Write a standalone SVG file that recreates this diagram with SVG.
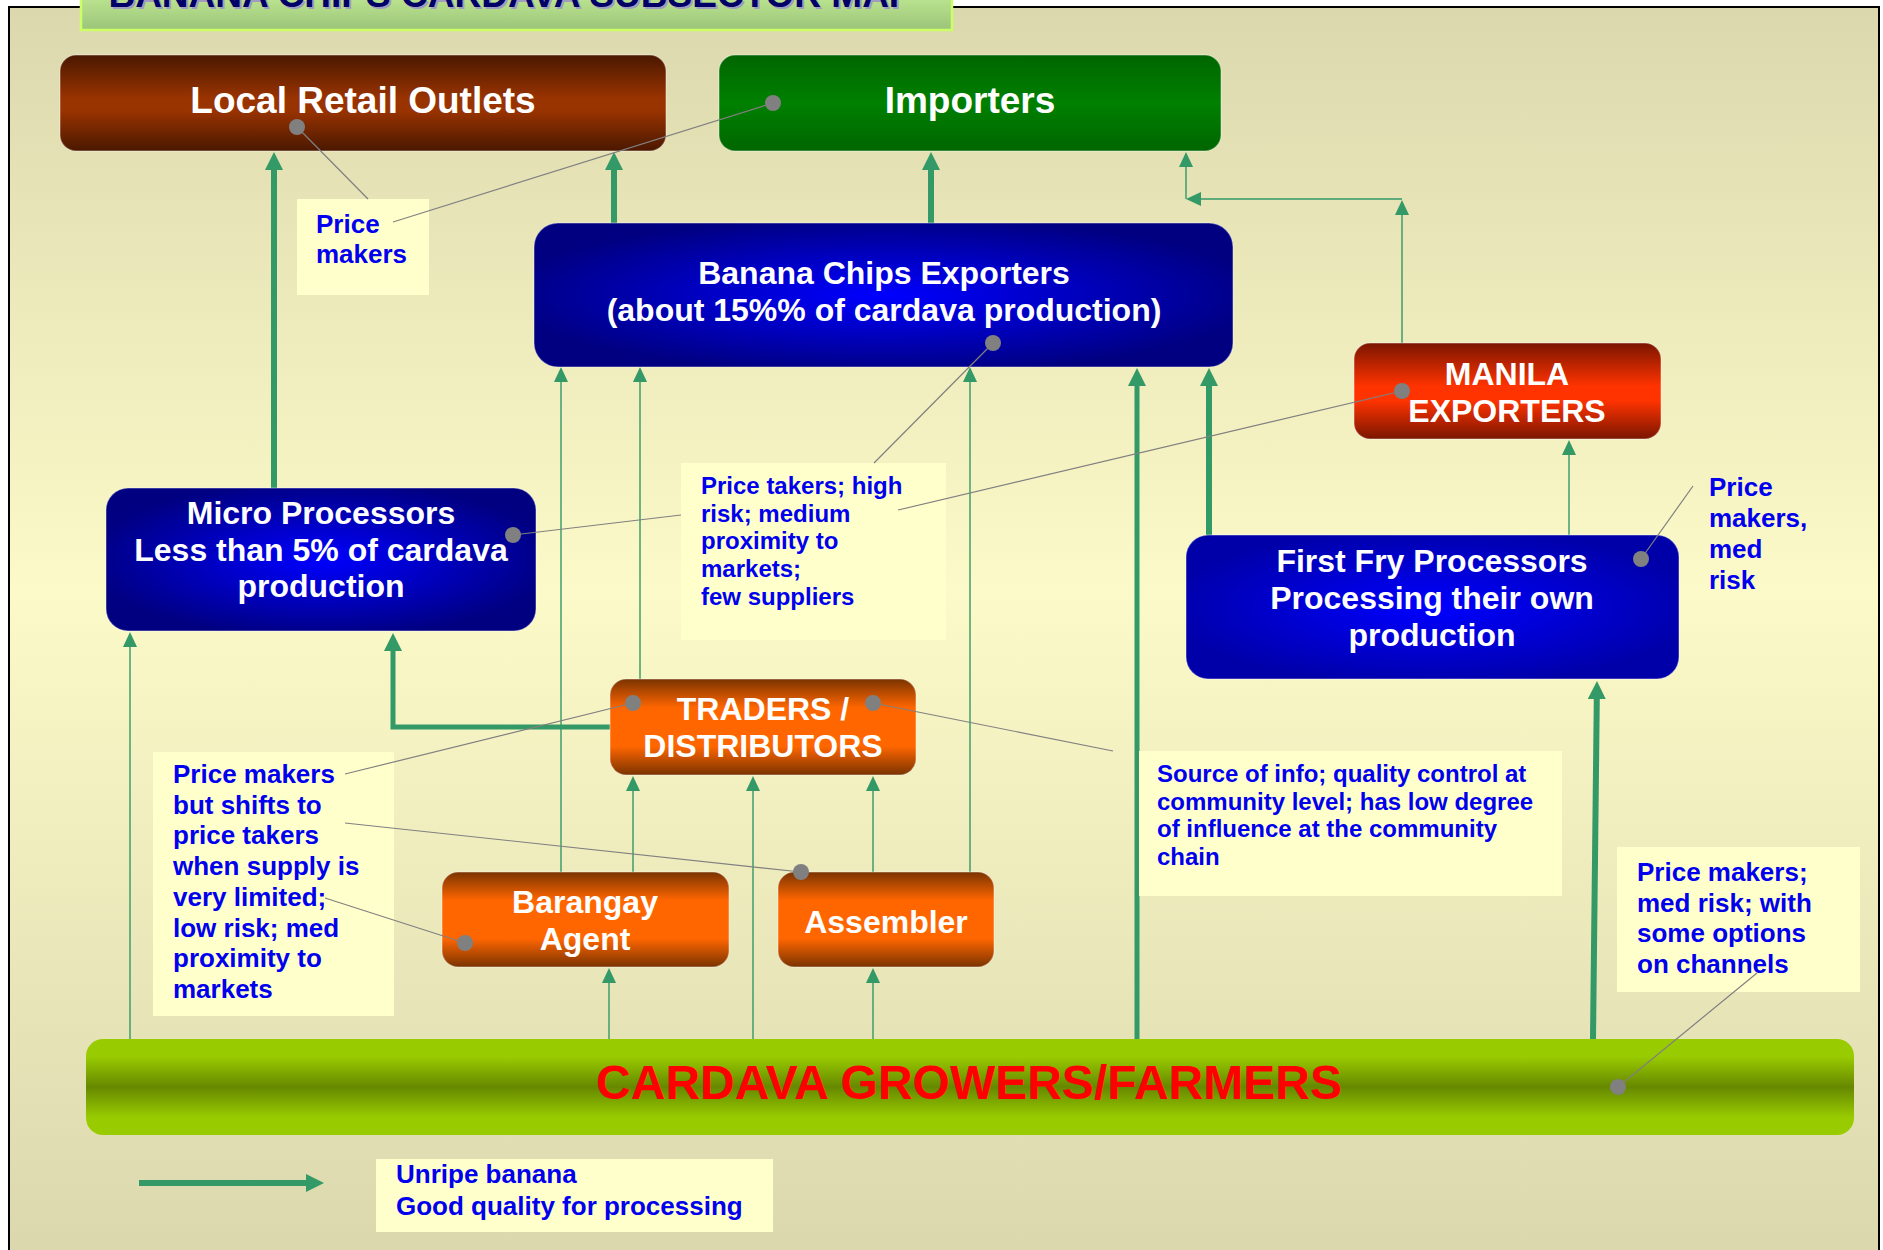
<svg xmlns="http://www.w3.org/2000/svg" width="1883" height="1250" viewBox="0 0 1883 1250">
<defs>
<style>
.nt{font-family:"Liberation Sans",Arial,sans-serif;font-weight:bold;fill:#ffffff;text-anchor:middle}
.lt{font-family:"Liberation Sans",Arial,sans-serif;font-weight:bold;fill:#0000ee}
.note{fill:#ffffcc}
.g{fill:none;stroke:#339966;stroke-linejoin:miter}
.thin{stroke-width:1.4}
.thick{stroke-width:6}
.med{stroke-width:5}
.lead{fill:none;stroke:#808080;stroke-width:1.2}
.dot{fill:#808080}
.nb{stroke:#ffffff;stroke-opacity:0.3;stroke-width:1.5}
</style>
<linearGradient id="gBg" gradientUnits="userSpaceOnUse" x1="0" y1="7" x2="0" y2="1250">
<stop offset="0" stop-color="#dcd8ae"/><stop offset="0.47" stop-color="#fcfac8"/><stop offset="1" stop-color="#dbd8ae"/>
</linearGradient>
<linearGradient id="gTitle" x1="0" y1="0" x2="0" y2="1">
<stop offset="0" stop-color="#d4ffa0"/><stop offset="1" stop-color="#9cc47a"/>
</linearGradient>
<linearGradient id="gBrown" x1="0" y1="0" x2="0" y2="1">
<stop offset="0" stop-color="#4a1800"/><stop offset="0.45" stop-color="#993300"/><stop offset="0.58" stop-color="#993300"/><stop offset="1" stop-color="#4a1800"/>
</linearGradient>
<linearGradient id="gGreen" x1="0" y1="0" x2="0" y2="1">
<stop offset="0" stop-color="#006600"/><stop offset="0.5" stop-color="#008000"/><stop offset="1" stop-color="#006600"/>
</linearGradient>
<radialGradient id="gBlue" cx="0.5" cy="0.5" r="0.55">
<stop offset="0" stop-color="#0000ff"/><stop offset="1" stop-color="#000080"/>
</radialGradient>
<radialGradient id="gBlue2" cx="0.5" cy="0.5" r="0.55">
<stop offset="0" stop-color="#0000ff"/><stop offset="1" stop-color="#0000a8"/>
</radialGradient>
<linearGradient id="gRed" x1="0" y1="0" x2="0" y2="1">
<stop offset="0" stop-color="#7a1500"/><stop offset="0.45" stop-color="#ff3300"/><stop offset="0.6" stop-color="#ff3300"/><stop offset="1" stop-color="#7a1500"/>
</linearGradient>
<linearGradient id="gOrange" x1="0" y1="0" x2="0" y2="1">
<stop offset="0" stop-color="#7a3300"/><stop offset="0.3" stop-color="#ff6600"/><stop offset="0.7" stop-color="#ff6600"/><stop offset="1" stop-color="#7a3300"/>
</linearGradient>
<linearGradient id="gCard" x1="0" y1="0" x2="0" y2="1">
<stop offset="0" stop-color="#99cc00"/><stop offset="0.18" stop-color="#99cc00"/><stop offset="0.5" stop-color="#668800"/><stop offset="0.82" stop-color="#99cc00"/><stop offset="1" stop-color="#99cc00"/>
</linearGradient>
<marker id="ah" markerUnits="userSpaceOnUse" markerWidth="15" markerHeight="14" viewBox="0 0 15 14" refX="1" refY="7" orient="auto">
<path d="M0,0 L15,7 L0,14 z" fill="#339966"/>
</marker>
<marker id="ahT" markerUnits="userSpaceOnUse" markerWidth="18" markerHeight="18" viewBox="0 0 18 18" refX="1" refY="9" orient="auto">
<path d="M0,0 L18,9 L0,18 z" fill="#339966"/>
</marker>
</defs>

<rect width="1883" height="1250" fill="#ffffff"/>
<rect x="9" y="7" width="1870" height="1300" fill="url(#gBg)" stroke="#000000" stroke-width="2"/>

<g id="title">
<rect x="81" y="-30" width="871" height="60" fill="url(#gTitle)" stroke="#ccff66" stroke-width="2.5"/>
<text x="513" y="9" font-family="Liberation Sans, Arial, sans-serif" font-weight="bold" font-size="37" fill="#a09cc0" text-anchor="middle">BANANA CHIPS CARDAVA SUBSECTOR MAP</text>
<text x="511" y="7" font-family="Liberation Sans, Arial, sans-serif" font-weight="bold" font-size="37" fill="#000066" text-anchor="middle">BANANA CHIPS CARDAVA SUBSECTOR MAP</text>
</g>

<g id="connectors">
<path class="g thick" d="M274,488 V169" marker-end="url(#ahT)"/>
<path class="g thick" d="M614,223 V169" marker-end="url(#ahT)"/>
<path class="g thick" d="M931,223 V169" marker-end="url(#ahT)"/>
<path class="g thick" d="M1209,535 V385" marker-end="url(#ahT)"/>
<path class="g med" d="M610,727 H393 V650" marker-end="url(#ahT)"/>
<path class="g thick" d="M1593,1039 L1596.8,698" marker-end="url(#ahT)"/>
<path class="g med" d="M1137,1039 V385" marker-end="url(#ahT)"/>
<path class="g thin" d="M130,1039 V646" marker-end="url(#ah)"/>
<path class="g thin" d="M561,872 V381" marker-end="url(#ah)"/>
<path class="g thin" d="M640,679 V381" marker-end="url(#ah)"/>
<path class="g thin" d="M970,872 V381" marker-end="url(#ah)"/>
<path class="g thin" d="M633,872 V790" marker-end="url(#ah)"/>
<path class="g thin" d="M753,1039 V790" marker-end="url(#ah)"/>
<path class="g thin" d="M873,872 V790" marker-end="url(#ah)"/>
<path class="g thin" d="M609,1039 V982" marker-end="url(#ah)"/>
<path class="g thin" d="M873,1039 V982" marker-end="url(#ah)"/>
<path class="g thin" d="M1569,535 V454" marker-end="url(#ah)"/>
<path class="g thin" d="M1402,343 V214" marker-end="url(#ah)"/>
<path class="g thin" d="M1402,199 H1200" marker-end="url(#ah)"/>
<path class="g thin" d="M1186,199 V166" marker-end="url(#ah)"/>
<path class="g thick" d="M139,1183 H307" marker-end="url(#ahT)"/>
</g>

<g id="local-retail">
<rect class="nb" x="60" y="55" width="606" height="96" rx="16" fill="url(#gBrown)"/>
<text class="nt" x="363" y="113" font-size="37">Local Retail Outlets</text>
</g>
<g id="importers">
<rect class="nb" x="719" y="55" width="502" height="96" rx="16" fill="url(#gGreen)"/>
<text class="nt" x="970" y="113" font-size="37">Importers</text>
</g>
<g id="banana-chips-exporters">
<rect class="nb" x="534" y="223" width="699" height="144" rx="24" fill="url(#gBlue)"/>
<text class="nt" x="884" y="284" font-size="32">Banana Chips Exporters</text>
<text class="nt" x="884" y="321" font-size="32">(about 15%% of cardava production)</text>
</g>
<g id="manila-exporters">
<rect class="nb" x="1354" y="343" width="307" height="96" rx="16" fill="url(#gRed)"/>
<text class="nt" x="1507" y="385" font-size="32">MANILA</text>
<text class="nt" x="1507" y="422" font-size="32">EXPORTERS</text>
</g>
<g id="micro-processors">
<rect class="nb" x="106" y="488" width="430" height="143" rx="22" fill="url(#gBlue)"/>
<text class="nt" x="321" y="524" font-size="32">Micro Processors</text>
<text class="nt" x="321" y="561" font-size="32">Less than 5% of cardava</text>
<text class="nt" x="321" y="597" font-size="32">production</text>
</g>
<g id="first-fry-processors">
<rect class="nb" x="1186" y="535" width="493" height="144" rx="22" fill="url(#gBlue2)"/>
<text class="nt" x="1432" y="572" font-size="32">First Fry Processors</text>
<text class="nt" x="1432" y="609" font-size="32">Processing their own</text>
<text class="nt" x="1432" y="646" font-size="32">production</text>
</g>
<g id="traders-distributors">
<rect class="nb" x="610" y="679" width="306" height="96" rx="16" fill="url(#gOrange)"/>
<text class="nt" x="763" y="720" font-size="32">TRADERS /</text>
<text class="nt" x="763" y="757" font-size="32">DISTRIBUTORS</text>
</g>
<g id="barangay-agent">
<rect class="nb" x="442" y="872" width="287" height="95" rx="16" fill="url(#gOrange)"/>
<text class="nt" x="585" y="913" font-size="32">Barangay</text>
<text class="nt" x="585" y="950" font-size="32">Agent</text>
</g>
<g id="assembler">
<rect class="nb" x="778" y="872" width="216" height="95" rx="16" fill="url(#gOrange)"/>
<text class="nt" x="886" y="933" font-size="32">Assembler</text>
</g>
<g id="cardava-growers">
<rect x="86" y="1039" width="1768" height="96" rx="17" fill="url(#gCard)"/>
<text x="969" y="1099" font-family="Liberation Sans, Arial, sans-serif" font-weight="bold" font-size="48" fill="#ff0000" text-anchor="middle">CARDAVA GROWERS/FARMERS</text>
</g>

<g id="note-price-makers-top">
<rect class="note" x="297" y="199" width="132" height="96"/>
<text class="lt" x="316" y="233" font-size="26">Price</text>
<text class="lt" x="316" y="263" font-size="26">makers</text>
</g>
<g id="note-price-takers">
<rect class="note" x="681" y="463" width="265" height="177"/>
<text class="lt" font-size="24"><tspan x="701" y="494">Price takers; high</tspan><tspan x="701" y="522">risk; medium</tspan><tspan x="701" y="549">proximity to</tspan><tspan x="701" y="577">markets;</tspan><tspan x="701" y="605">few suppliers</tspan></text>
</g>
<g id="note-price-makers-med-risk">
<text class="lt" font-size="26"><tspan x="1709" y="496">Price</tspan><tspan x="1709" y="527">makers,</tspan><tspan x="1709" y="558">med</tspan><tspan x="1709" y="589">risk</tspan></text>
</g>
<g id="note-price-makers-shifts">
<rect class="note" x="153" y="752" width="241" height="264"/>
<text class="lt" font-size="26"><tspan x="173" y="783">Price makers</tspan><tspan x="173" y="814">but shifts to</tspan><tspan x="173" y="844">price takers</tspan><tspan x="173" y="875">when supply is</tspan><tspan x="173" y="906">very limited;</tspan><tspan x="173" y="937">low risk; med</tspan><tspan x="173" y="967">proximity to</tspan><tspan x="173" y="998">markets</tspan></text>
</g>
<g id="note-source-of-info">
<rect class="note" x="1139" y="751" width="423" height="145"/>
<text class="lt" font-size="24"><tspan x="1157" y="782">Source of info; quality control at</tspan><tspan x="1157" y="810">community level; has low degree</tspan><tspan x="1157" y="837">of influence at the community</tspan><tspan x="1157" y="865">chain</tspan></text>
</g>
<g id="note-price-makers-channels">
<rect class="note" x="1617" y="847" width="243" height="145"/>
<text class="lt" font-size="26"><tspan x="1637" y="881">Price makers;</tspan><tspan x="1637" y="912">med risk; with</tspan><tspan x="1637" y="942">some options</tspan><tspan x="1637" y="973">on channels</tspan></text>
</g>
<g id="legend">
<rect class="note" x="376" y="1159" width="397" height="73"/>
<text class="lt" font-size="26"><tspan x="396" y="1183">Unripe banana</tspan><tspan x="396" y="1215">Good quality for processing</tspan></text>
</g>

<g id="leaders">
<path class="lead" d="M297,127 L368,199"/>
<path class="lead" d="M773,103 L393,222"/>
<path class="lead" d="M993,343 L874,463"/>
<path class="lead" d="M513,535 L681,515"/>
<path class="lead" d="M1402,391 L898,510"/>
<path class="lead" d="M1641,559 L1693,486"/>
<path class="lead" d="M633,703 L345,774"/>
<path class="lead" d="M873,703 L1113,751"/>
<path class="lead" d="M801,872 L345,823"/>
<path class="lead" d="M465,943 L325,898"/>
<path class="lead" d="M1757,973 L1618,1087"/>
<circle class="dot" cx="297" cy="127" r="8"/>
<circle class="dot" cx="773" cy="103" r="8"/>
<circle class="dot" cx="993" cy="343" r="8"/>
<circle class="dot" cx="513" cy="535" r="8"/>
<circle class="dot" cx="1402" cy="391" r="8"/>
<circle class="dot" cx="1641" cy="559" r="8"/>
<circle class="dot" cx="633" cy="703" r="8"/>
<circle class="dot" cx="873" cy="703" r="8"/>
<circle class="dot" cx="801" cy="872" r="8"/>
<circle class="dot" cx="465" cy="943" r="8"/>
<circle class="dot" cx="1618" cy="1087" r="8"/>
</g>
</svg>
